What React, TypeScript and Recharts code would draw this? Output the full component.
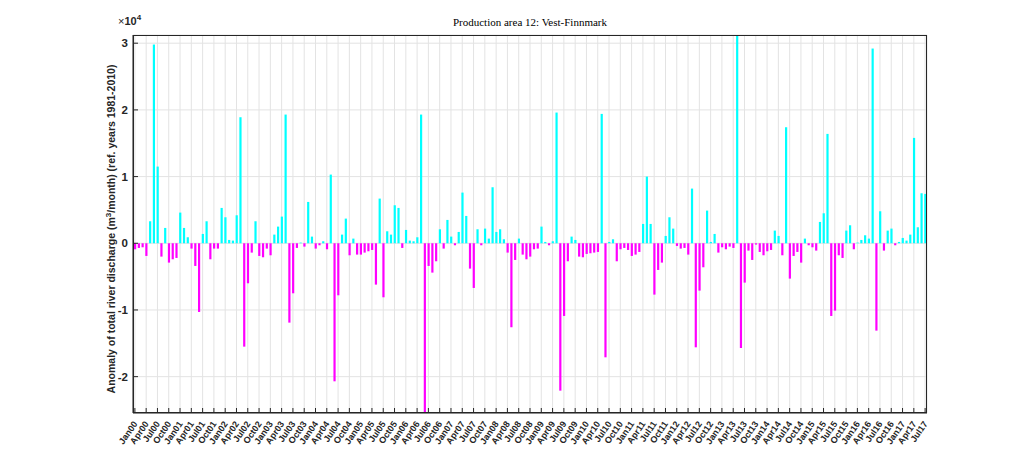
import React from "react";
import { BarChart, Bar, XAxis, YAxis, CartesianGrid, Cell } from "recharts";

const MONTHS = ["Jan", "Feb", "Mar", "Apr", "May", "Jun", "Jul", "Aug", "Sep", "Oct", "Nov", "Dec"];
const YEARS = ["00", "01", "02", "03", "04", "05", "06", "07", "08", "09", "10", "11", "12", "13", "14", "15", "16", "17"];

// monthly anomaly, m3/month, Jan00 .. Jul17
const discharge = [
  -900, -700, -600, -1900, 3300, 29800, 11500, -2000, 2300, -2900, -2400, -2200,
  4600, 2300, 900, -800, -3400, -10300, 1400, 3300, -2400, -800, -800, 5300,
  3900, 500, 400, 4200, 18900, -15500, -6000, -1400, 3300, -1900, -2100, -800,
  -1800, 1300, 2500, 4000, 19300, -11900, -7500, -700, 100, -500, 6200, 1000,
  -800, -300, 300, -900, 10300, -20700, -7800, 1300, 3700, -1800, 700, -1700,
  -1700, -1400, -1200, -1000, -6200, 6700, -8100, 1800, 1300, 5700, 5300, -700,
  2000, 400, 300, 900, 19300, -29000, -3400, -4400, -2700, 2100, -800, 3500,
  1000, -300, 1700, 7600, 4100, -3800, -6700, 2100, -300, 2200, 700, 8400,
  1700, 2100, 600, -1400, -12600, -2500, 700, -1700, -2400, -2000, -900, -800,
  2500, 200, -300, 300, 19600, -22100, -10900, -2700, 1000, 500, -2000, -2100,
  -1600, -1500, -1400, -1300, 19400, -17100, 200, 600, -2700, -900, -700, -1000,
  -1900, -1700, -1300, 2900, 10000, 2900, -7700, -4000, -2900, 1100, 3900, 2200,
  -400, -800, -700, -1700, 8200, -15600, -7100, -3600, 4900, 200, 1400, -1400,
  -600, -900, -500, -700, 32500, -15700, -5900, -1100, -2500, -200, -1300, -1800,
  -1200, -1000, 1900, 1100, -1800, 17400, -5300, -1900, -1300, -2900, 700, -300,
  -600, -1100, 3200, 4500, 16400, -10900, -10100, -1800, -2200, 1900, 2700, -900,
  100, 500, 1200, 700, 29200, -13100, 4800, -1100, 1900, 2200, -300, 200,
  800, 400, 1300, 15800, 2400, 7500, 7400,
];

const categories: string[] = [];
YEARS.forEach((y) => MONTHS.forEach((m) => categories.push(m + y)));

const yTicks = [-20000, -10000, 0, 10000, 20000, 30000];
const yTickLabels = ["-2", "-1", "0", "1", "2", "3"];

const data = discharge.map((v, i) => ({ month: categories[i], value: v }));

const FRAME = "#262626";
const SANS = "Liberation Sans, Arial, sans-serif";
const POS = "#00ffff";
const NEG = "#ff00ff";

const BottomTick = (props: any) => {
  const { x, y, payload } = props;
  const tx = x + 3;
  const ty = y + 11;
  return (
    <g>
      <line x1={x} y1={y} x2={x} y2={y - 5} stroke={FRAME} strokeWidth={1} />
      <text
        x={tx}
        y={ty}
        transform={`rotate(-55 ${tx} ${ty})`}
        textAnchor="end"
        fontSize={9}
        fontWeight="bold"
        fontFamily={SANS}
        fill={FRAME}
      >
        {payload.value}
      </text>
    </g>
  );
};

const TopTick = (props: any) => {
  const { x, y } = props;
  return <line x1={x} y1={y} x2={x} y2={y + 5} stroke={FRAME} strokeWidth={1} />;
};

const LeftTick = (props: any) => {
  const { x, y, payload } = props;
  const idx = yTicks.indexOf(payload.value);
  return (
    <g>
      <line x1={x} y1={y} x2={x + 5} y2={y} stroke={FRAME} strokeWidth={1} />
      <text x={x - 5} y={y + 4} textAnchor="end" fontSize={11.5} fontWeight="bold" fontFamily={SANS} fill={FRAME}>
        {yTickLabels[idx]}
      </text>
    </g>
  );
};

const RightTick = (props: any) => {
  const { x, y } = props;
  return <line x1={x} y1={y} x2={x - 5} y2={y} stroke={FRAME} strokeWidth={1} />;
};

export default function App() {
  return (
    <div style={{ position: "absolute", left: 0, top: 0, width: 1024, height: 465, background: "#fff" }}>
      <BarChart
        width={1024}
        height={465}
        data={data}
        margin={{ top: 35, right: 97, left: 0, bottom: 0 }}
        barCategoryGap={0}
      >
        <CartesianGrid stroke="#e3e3e3" strokeWidth={1} />
        <XAxis
          dataKey="month"
          interval={2}
          height={52}
          tickSize={0}
          tickMargin={0}
          tickLine={false}
          tick={BottomTick}
          axisLine={{ stroke: FRAME }}
        />
        <XAxis
          xAxisId="top"
          orientation="top"
          dataKey="month"
          interval={2}
          height={0}
          tickSize={0}
          tickMargin={0}
          tickLine={false}
          tick={TopTick}
          axisLine={{ stroke: FRAME }}
        />
        <YAxis
          type="number"
          domain={[-25450, 31230]}
          ticks={yTicks}
          allowDataOverflow
          width={133}
          tickSize={0}
          tickMargin={0}
          tickLine={false}
          tick={LeftTick}
          axisLine={{ stroke: FRAME }}
        />
        <YAxis
          yAxisId="right"
          orientation="right"
          type="number"
          domain={[-25450, 31230]}
          ticks={yTicks}
          allowDataOverflow
          width={0}
          tickSize={0}
          tickMargin={0}
          tickLine={false}
          tick={RightTick}
          axisLine={{ stroke: FRAME }}
        />
        <Bar dataKey="value" barSize={2.2} isAnimationActive={false}>
          {data.map((d, i) => (
            <Cell key={i} fill={d.value >= 0 ? POS : NEG} />
          ))}
        </Bar>
      </BarChart>
      <svg
        width={1024}
        height={465}
        style={{ position: "absolute", left: 0, top: 0, pointerEvents: "none" }}
      >
        <rect x={133.5} y={35.5} width={793} height={377} fill="none" stroke={FRAME} strokeWidth={1} />
        <text
          x={530}
          y={26}
          textAnchor="middle"
          fontSize={11}
          fontFamily="Liberation Serif, Times New Roman, serif"
          fill="#000"
        >
          Production area 12:  Vest-Finnmark
        </text>
        <text x={118} y={25} fontSize={11} fontFamily={SANS} fill={FRAME}>
          ×
          <tspan fontWeight="bold">10</tspan>
          <tspan fontSize={8} fontWeight="bold" dy={-5}>4</tspan>
        </text>
        <text
          x={0}
          y={0}
          transform="translate(115 229) rotate(-90)"
          textAnchor="middle"
          fontSize={10.5}
          fontWeight="bold"
          fontFamily={SANS}
          fill={FRAME}
        >
          Anomaly of total river discharge (m
          <tspan fontSize={8} dy={-4}>3</tspan>
          <tspan dy={4}>/month) (ref. years 1981-2010)</tspan>
        </text>
      </svg>
    </div>
  );
}
